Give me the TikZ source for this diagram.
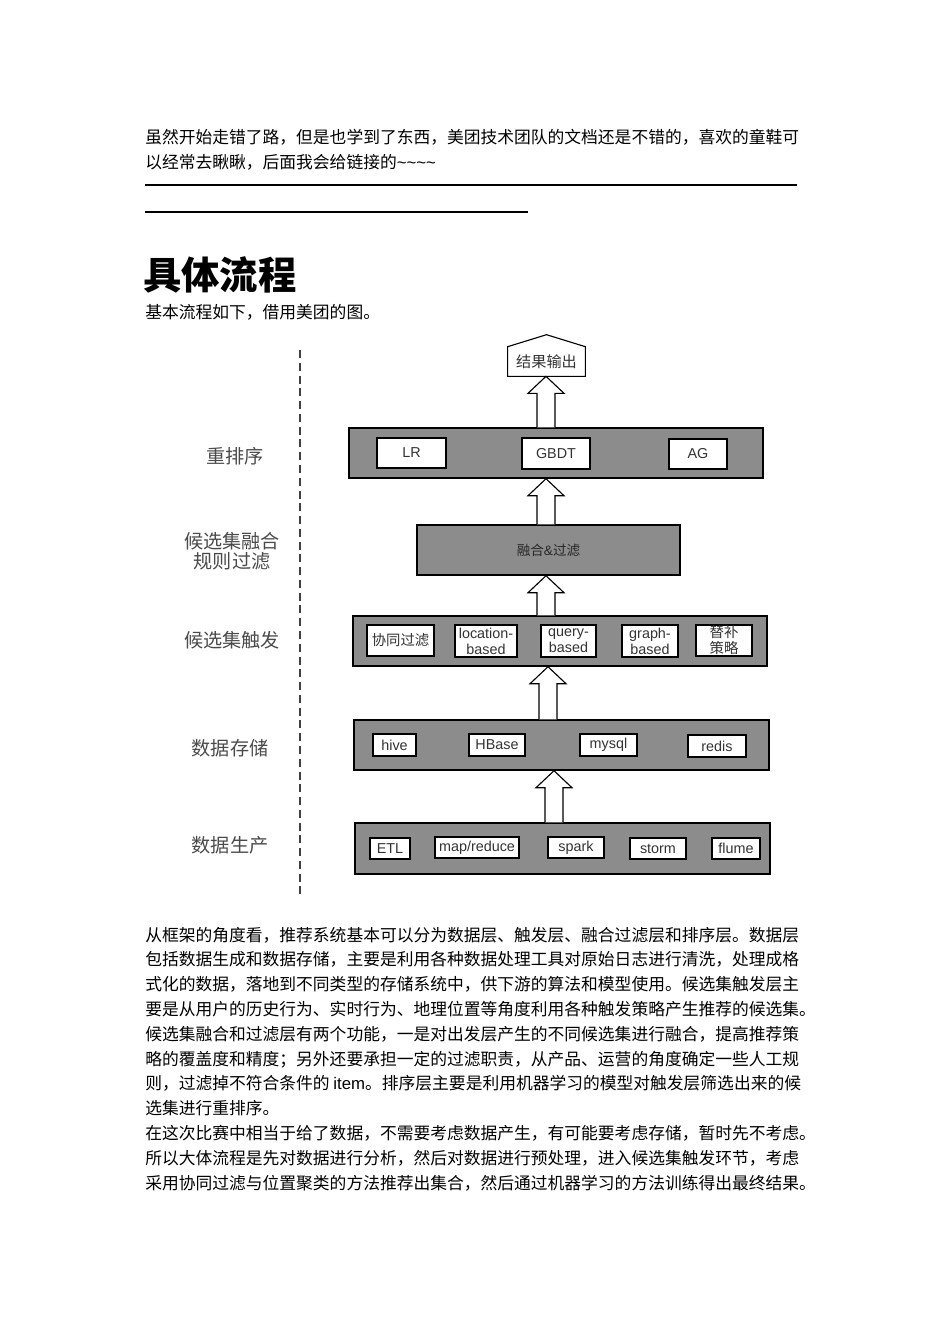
\documentclass[tikz,border=0pt]{standalone}
\usepackage{fontspec}
\setmainfont{Noto Sans CJK SC}
\newfontfamily\latin{Liberation Sans}
\usetikzlibrary{positioning, calc}

\definecolor{layergray}{HTML}{8C8C8C}
\definecolor{labelgray}{HTML}{4A4A4A}

% hollow block arrow from #1 (tail) up to #2 (tip)
\newcommand{\hollowup}[2]{%
  \draw[hollow] ($(#1)+(-9,0)$) -- ($(#2)+(-9,17)$) -- ($(#2)+(-18,17)$) -- (#2)
    -- ($(#2)+(18,17)$) -- ($(#2)+(9,17)$) -- ($(#1)+(9,0)$);}

\begin{document}
\begin{tikzpicture}[x=0.6263pt, y=-0.6263pt]
    \tikzset{
      box/.style 2 args={minimum width=#1*0.6263pt, minimum height=#2*0.6263pt, inner sep=0pt},
      layer/.style={draw=black, line width=0.9pt, fill=layergray},
      item/.style={draw=black, line width=0.7pt, fill=white,
        align=center, text=black!80, font=\latin\fontsize{9}{10}\selectfont},
      cjkitem/.style={item, font=\fontsize{9}{10}\selectfont},
      side/.style={align=center, text=labelgray, font=\fontsize{12}{12.5}\selectfont},
      hollow/.style={draw=black, line width=0.7pt, fill=white, line join=miter},
      body/.style={anchor=base west, align=left, inner sep=0pt,
        font=\fontsize{10.5}{15.53}\selectfont}
    }
    \useasboundingbox (0,0) rectangle (950,1344);

    % text above the figure (base = last line)
    \node[body] (intro) at (145,168) {虽然开始走错了路，但是也学到了东西，美团技术团队的文档还是不错的，喜欢的童鞋可\\以经常去瞅瞅，后面我会给链接的\latin\textasciitilde\textasciitilde\textasciitilde\textasciitilde};
    \draw[line width=0.9pt] (145,185) -- (797,185);
    \draw[line width=0.9pt] (145,212) -- (528,212);
    \node[anchor=base west, inner sep=0pt, font=\fontsize{24}{24}\selectfont\bfseries] (title) at (143,289) {具体流程};
    \node[body] (lead) at (145,318) {基本流程如下，借用美团的图。};

    % layer labels
    \draw[line width=0.9pt, draw=black!75, dash pattern=on 5pt off 3pt] (300,350) -- (300,897);
    \node[side] (s1) at (235,456) {重排序};
    \node[side] (s2) at (232,551) {候选集融合\\规则过滤};
    \node[side] (s3) at (232,640) {候选集触发};
    \node[side] (s4) at (230,748) {数据存储};
    \node[side] (s5) at (230,845) {数据生产};

    % output
    \node[box={77}{29}, font=\fontsize{9.5}{10}\selectfont, text=black!80] (out) at (546.5,361.5) {结果输出};
    \draw[line width=0.7pt, line join=miter] (out.south west) -- (out.north west) -- ($(out.north)+(0,-12)$)
      -- (out.north east) -- (out.south east) -- cycle;

    % rerank layer
    \node[layer, box={414}{50}] (rank) at (556,453) {};
    \node[item, box={69}{30}] (lr) at (411.5,453) {LR};
    \node[item, box={68}{31}] (gbdt) at (556,453.5) {GBDT};
    \node[item, box={58}{30}] (ag) at (698,454) {AG};

    % fusion layer
    \node[layer, box={263}{50}, font=\fontsize{8.5}{10}\selectfont, text=black!85] (fuse) at (548.5,550) {融合\latin\&\rmfamily 过滤};

    % trigger layer
    \node[layer, box={414}{50}] (trig) at (560,641) {};
    \node[cjkitem, box={67}{31}] (cf) at (400.5,640.5) {协同过滤};
    \node[item, box={62}{32}] (loc) at (486,641) {location-\\based};
    \node[item, box={55}{32}] (query) at (568.5,641) {query-\\based};
    \node[item, box={56}{32}] (graph) at (650,641) {graph-\\based};
    \node[cjkitem, box={56}{31}] (backup) at (724,640.5) {替补\\策略};

    % storage layer
    \node[layer, box={415}{50}] (store) at (561.5,745) {};
    \node[item, box={43}{22}] (hive) at (394.5,745) {hive};
    \node[item, box={56}{22}] (hbase) at (497,745) {HBase};
    \node[item, box={57}{22}] (mysql) at (608.5,745) {mysql};
    \node[item, box={58}{22}] (redis) at (717,746) {redis};

    % production layer
    \node[layer, box={415}{51}] (prod) at (562.5,848.5) {};
    \node[item, box={40}{21}] (etl) at (390,848.5) {ETL};
    \node[item, box={84}{21}] (mr) at (477,847.5) {map/reduce};
    \node[item, box={56}{21}] (spark) at (576,847.5) {spark};
    \node[item, box={56}{21}] (storm) at (658,848.5) {storm};
    \node[item, box={48}{21}] (flume) at (736,848.5) {flume};

    % block arrows between layers
    \coordinate (ax1) at (546,0);
    \coordinate (ax2) at (548,0);
    \coordinate (ax3) at (554,0);
    \hollowup{rank.north -| ax1}{out.south -| ax1}
    \hollowup{fuse.north -| ax1}{rank.south -| ax1}
    \hollowup{trig.north -| ax1}{fuse.south -| ax1}
    \hollowup{store.north -| ax2}{trig.south -| ax2}
    \hollowup{prod.north -| ax3}{store.south -| ax3}

    % text below the figure (base = last line)
    \node[body] (para) at (145,1189) {从框架的角度看，推荐系统基本可以分为数据层、触发层、融合过滤层和排序层。数据层\\
包括数据生成和数据存储，主要是利用各种数据处理工具对原始日志进行清洗，处理成格\\
式化的数据，落地到不同类型的存储系统中，供下游的算法和模型使用。候选集触发层主\\
要是从用户的历史行为、实时行为、地理位置等角度利用各种触发策略产生推荐的候选集。\\
候选集融合和过滤层有两个功能，一是对出发层产生的不同候选集进行融合，提高推荐策\\
略的覆盖度和精度；另外还要承担一定的过滤职责，从产品、运营的角度确定一些人工规\\
则，过滤掉不符合条件的 {\latin item}。排序层主要是利用机器学习的模型对触发层筛选出来的候\\
选集进行重排序。\\
在这次比赛中相当于给了数据，不需要考虑数据产生，有可能要考虑存储，暂时先不考虑。\\
所以大体流程是先对数据进行分析，然后对数据进行预处理，进入候选集触发环节，考虑\\
采用协同过滤与位置聚类的方法推荐出集合，然后通过机器学习的方法训练得出最终结果。};
\end{tikzpicture}
\end{document}
